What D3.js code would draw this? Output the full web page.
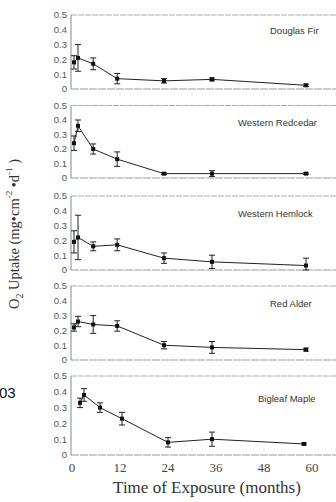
<!DOCTYPE html>
<html lang="en">
<head>
<meta charset="UTF-8">
<title>O2 uptake by species</title>
<script src="https://cdn.jsdelivr.net/npm/d3@7"></script>
<style>
    body { margin: 0; background: #fff; overflow: hidden; }
    svg { display: block; }
    .ytick { font: 9.5px "Liberation Sans", Arial, sans-serif; fill: #555; }
    .species { font: 9.5px "Liberation Sans", Arial, sans-serif; fill: #333; }
    .xtick { font: 13px "Liberation Serif", "Times New Roman", serif; fill: #444; }
    .title { font: 17px "Liberation Serif", "Times New Roman", serif; fill: #333; }
    .ytitle { font: 14.5px "Liberation Serif", "Times New Roman", serif; fill: #333; }
</style>
</head>
<body>
<script>
    // --- data ---
    const species = ["Douglas Fir", "Western Redcedar", "Western Hemlock", "Red Alder", "Bigleaf Maple"];
    const months = [0.5, 1.5, 5.3, 11.3, 23, 35, 58.5];
    const mapleMonths = [2, 3, 7, 12.5, 24, 35, 58];

    const douglasFir = [0.18, 0.21, 0.17, 0.07, 0.055, 0.065, 0.025];
    const douglasFirErr = [0.045, 0.09, 0.04, 0.035, 0.015, 0.01, 0.008];
    const redcedar = [0.24, 0.36, 0.20, 0.13, 0.03, 0.03, 0.03];
    const redcedarErr = [0.05, 0.04, 0.035, 0.05, 0.006, 0.02, 0.005];
    const hemlock = [0.19, 0.22, 0.16, 0.17, 0.08, 0.055, 0.03];
    const hemlockErr = [0.075, 0.15, 0.03, 0.04, 0.035, 0.045, 0.05];
    const redAlder = [0.22, 0.26, 0.24, 0.23, 0.10, 0.085, 0.07];
    const redAlderErr = [0.025, 0.035, 0.06, 0.035, 0.025, 0.04, 0.01];
    const maple = [0.33, 0.38, 0.30, 0.23, 0.08, 0.10, 0.07];
    const mapleErr = [0.03, 0.04, 0.03, 0.04, 0.03, 0.045, 0.006];

    const yTicks = [0, 0.1, 0.2, 0.3, 0.4, 0.5];
    const xTicks = [0, 12, 24, 36, 48, 60];

    const series = [
        { name: species[0], t: months, v: douglasFir, e: douglasFirErr },
        { name: species[1], t: months, v: redcedar, e: redcedarErr },
        { name: species[2], t: months, v: hemlock, e: hemlockErr },
        { name: species[3], t: months, v: redAlder, e: redAlderErr },
        { name: species[4], t: mapleMonths, v: maple, e: mapleErr }
    ];

    // panel layout (top = y of 0.5, bottom = y of 0, labelX = species label start)
    const panels = [
        { top: 15, bottom: 89, labelX: 270, labelY: 34 },
        { top: 105.5, bottom: 178, labelX: 238, labelY: 126 },
        { top: 196, bottom: 270, labelX: 238, labelY: 217 },
        { top: 286, bottom: 360, labelX: 270, labelY: 307 },
        { top: 376, bottom: 455, labelX: 258, labelY: 402 }
    ];

    const width = 336, height = 502;
    const left = 71, right = 345;

    const svg = d3.select("body").append("svg")
        .attr("width", width)
        .attr("height", height);

    const x = d3.scaleLinear().domain([0, 60]).range([72, 312]);

    series.forEach((s, i) => {
        const p = panels[i];
        const y = d3.scaleLinear().domain([0, 0.5]).range([p.bottom, p.top]);
        const g = svg.append("g");

        // frame: top border, baseline, left axis
        g.append("line")
            .attr("x1", left).attr("x2", right)
            .attr("y1", p.top).attr("y2", p.top)
            .attr("stroke", "#aaa").attr("stroke-width", 1)
            .attr("stroke-dasharray", "6,1");
        g.append("line")
            .attr("x1", left).attr("x2", right)
            .attr("y1", p.bottom).attr("y2", p.bottom)
            .attr("stroke", "#999").attr("stroke-width", 1)
            .attr("stroke-dasharray", "8,1");
        g.append("line")
            .attr("x1", left).attr("x2", left)
            .attr("y1", p.top).attr("y2", p.bottom)
            .attr("stroke", "#888").attr("stroke-width", 1);

        // y tick labels
        g.selectAll(".ytick")
            .data(yTicks)
            .enter().append("text")
            .attr("class", "ytick")
            .attr("x", 67)
            .attr("y", d => y(d))
            .attr("dy", "0.35em")
            .attr("text-anchor", "end")
            .text(d => d === 0 ? "0" : d3.format(".1f")(d));

        const pts = s.t.map((t, k) => ({ t: t, v: s.v[k], e: s.e[k] }));

        // error bars
        const eb = g.selectAll(".eb").data(pts).enter().append("g");
        eb.append("line")
            .attr("x1", d => x(d.t)).attr("x2", d => x(d.t))
            .attr("y1", d => y(d.v + d.e)).attr("y2", d => y(Math.max(0, d.v - d.e)))
            .attr("stroke", "#222").attr("stroke-width", 1);
        eb.append("line")
            .attr("x1", d => x(d.t) - 3).attr("x2", d => x(d.t) + 3)
            .attr("y1", d => y(d.v + d.e)).attr("y2", d => y(d.v + d.e))
            .attr("stroke", "#222").attr("stroke-width", 1);
        eb.append("line")
            .attr("x1", d => x(d.t) - 3).attr("x2", d => x(d.t) + 3)
            .attr("y1", d => y(Math.max(0, d.v - d.e))).attr("y2", d => y(Math.max(0, d.v - d.e)))
            .attr("stroke", "#222").attr("stroke-width", 1);

        // line
        g.append("path")
            .datum(pts)
            .attr("fill", "none")
            .attr("stroke", "#222")
            .attr("stroke-width", 1)
            .attr("d", d3.line().x(d => x(d.t)).y(d => y(d.v)));

        // markers
        g.selectAll(".pt").data(pts).enter().append("rect")
            .attr("x", d => x(d.t) - 2).attr("y", d => y(d.v) - 2)
            .attr("width", 4).attr("height", 4)
            .attr("fill", "#111");

        g.append("text")
            .attr("class", "species")
            .attr("x", p.labelX)
            .attr("y", p.labelY)
            .text(s.name);
    });

    // x tick labels under last panel
    svg.selectAll(".xtick")
        .data(xTicks)
        .enter().append("text")
        .attr("class", "xtick")
        .attr("x", d => x(d))
        .attr("y", 472)
        .attr("text-anchor", "middle")
        .text(d => d);

    svg.append("text")
        .attr("class", "title")
        .attr("x", 207)
        .attr("y", 493)
        .attr("text-anchor", "middle")
        .text("Time of Exposure (months)");

    // y axis title
    const yt = svg.append("text")
        .attr("class", "ytitle")
        .attr("transform", "translate(19,234) rotate(-90)")
        .attr("text-anchor", "middle");
    yt.append("tspan").text("O");
    yt.append("tspan").attr("font-size", "10px").attr("dy", 4).text("2");
    yt.append("tspan").attr("dy", -4).text(" Uptake (mg\u2022cm");
    yt.append("tspan").attr("font-size", "9px").attr("dy", -7).text("-2");
    yt.append("tspan").attr("dy", 7).text(" \u2022d");
    yt.append("tspan").attr("font-size", "9px").attr("dy", -7).text("-1");
    yt.append("tspan").attr("dy", 7).text(" )");

    // stray fragment at the left edge
    svg.append("text")
        .attr("x", -1)
        .attr("y", 398)
        .attr("font-family", "'Liberation Sans', Arial, sans-serif")
        .attr("font-size", "15px")
        .attr("fill", "#111")
        .text("03");
</script>
</body>
</html>
